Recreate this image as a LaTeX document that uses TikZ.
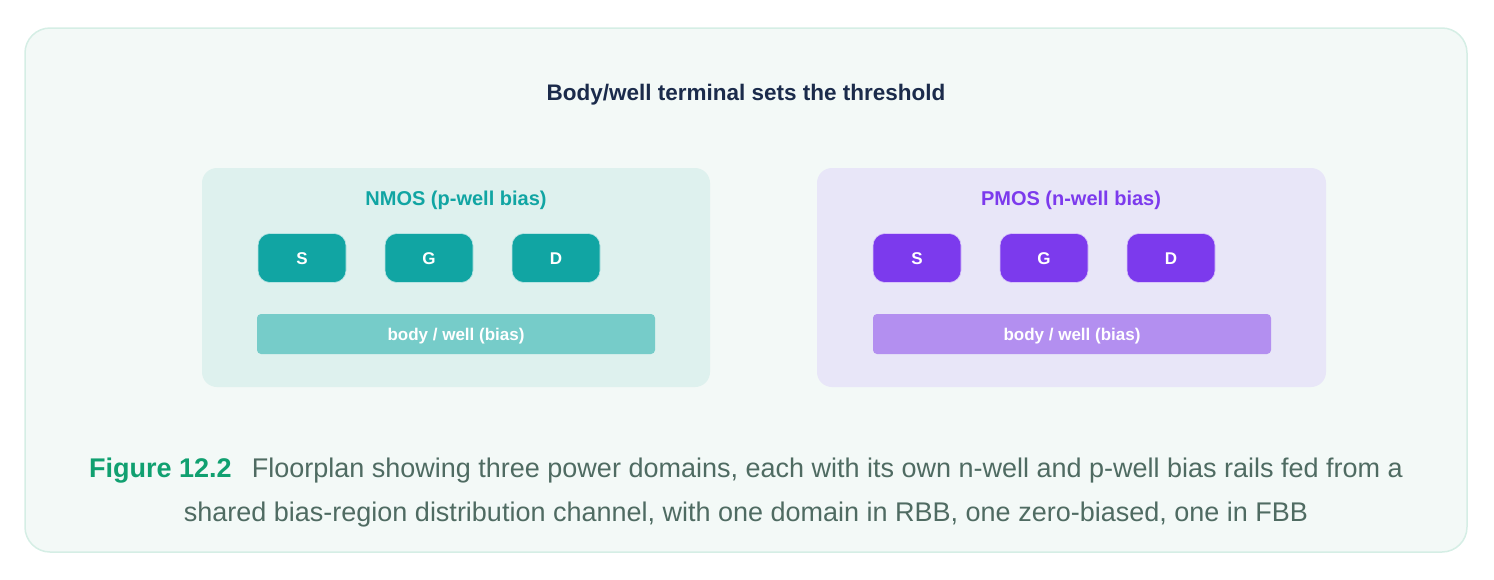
\documentclass[tikz,border=0pt]{standalone}
\usepackage{fontspec}
\setmainfont{Liberation Sans}
\definecolor{frameB}{HTML}{D5EEE5}
\definecolor{frameF}{HTML}{F3F9F7}
\definecolor{titleC}{HTML}{1B2B4B}
\definecolor{nBg}{HTML}{DEF1EE}
\definecolor{nMain}{HTML}{11A5A3}
\definecolor{nBody}{HTML}{76CCC9}
\definecolor{pBg}{HTML}{E8E6F8}
\definecolor{pMain}{HTML}{7C3AED}
\definecolor{pBody}{HTML}{B38FF0}
\definecolor{capG}{HTML}{10A070}
\definecolor{capT}{HTML}{4F6B62}
\tikzset{
  x=1pt, y=-1pt,
  term/.style={rounded corners=12pt, draw=white!70!#1, line width=0.6pt, fill=#1,
    minimum width=88pt, minimum height=49pt, inner sep=0pt,
    text height=12.3pt, text depth=0pt,
    text=white, font=\bfseries\fontsize{17}{20}\selectfont},
  bodyrail/.style={rounded corners=4pt, fill=#1, draw=none, inner sep=0pt,
    minimum width=398pt, minimum height=40pt,
    text height=12.3pt, text depth=0pt,
    text=white, font=\bfseries\fontsize{17}{20}\selectfont},
  hdr/.style={font=\bfseries\fontsize{20}{24}\selectfont, text=#1},
}
\begin{document}
\begin{tikzpicture}
\useasboundingbox (0,0) rectangle (1494,579);
\draw[rounded corners=25pt, draw=frameB, fill=frameF, line width=1.5pt] (25,28) rectangle (1467,552);
\node[font=\bfseries\fontsize{22.5}{26}\selectfont, text=titleC] (title) at (746,95) {Body/well terminal sets the threshold};
% NMOS
\fill[nBg, rounded corners=15pt] (202,168) rectangle (710,387);
\node[hdr=nMain] (ntitle) at (456,200) {NMOS (p-well bias)};
\node[term=nMain] (nS) at (302,258) {S};
\node[term=nMain] (nG) at (429,258) {G};
\node[term=nMain] (nD) at (556,258) {D};
\node[bodyrail=nBody] (nB) at (456,334) {body / well (bias)};
% PMOS
\fill[pBg, rounded corners=15pt] (817,168) rectangle (1326,387);
\node[hdr=pMain] (ptitle) at (1071,200) {PMOS (n-well bias)};
\node[term=pMain] (pS) at (917,258) {S};
\node[term=pMain] (pG) at (1044,258) {G};
\node[term=pMain] (pD) at (1171,258) {D};
\node[bodyrail=pBody] (pB) at (1072,334) {body / well (bias)};
% caption
\node[font=\fontsize{27}{44}\selectfont, text=capT, align=center] (cap) at (746,493)
 {{\bfseries\color{capG}Figure 12.2}\hspace{0.75em}Floorplan showing three power domains, each with its own n-well and p-well bias rails fed from a\\shared bias-region distribution channel, with one domain in RBB, one zero-biased, one in FBB};
\end{tikzpicture}
\end{document}
